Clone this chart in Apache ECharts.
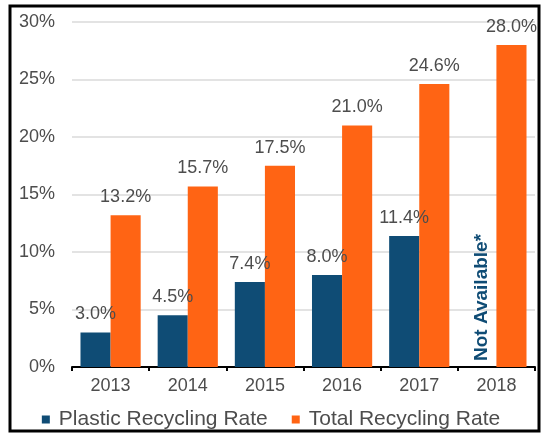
<!DOCTYPE html>
<html>
<head>
<meta charset="utf-8">
<script src="https://cdn.jsdelivr.net/npm/echarts@6/dist/echarts.min.js"></script>
<style>
html,body{margin:0;padding:0;background:#fff;}
#chart{width:542px;height:437px;}
</style>
</head>
<body>
<div id="chart"></div>
<script>
const categories = ['2013', '2014', '2015', '2016', '2017', '2018'];
const plasticRate = [3.0, 4.5, 7.4, 8.0, 11.4, null];
const totalRate = [13.2, 15.7, 17.5, 21.0, 24.6, 28.0];
const yTicks = [0, 5, 10, 15, 20, 25, 30];
const notAvailableText = 'Not Available*';

const FONT = '"Liberation Sans", Arial, sans-serif';
const BLUE = '#0f4c75';
const ORANGE = '#ff6414';
const TEXT = '#4d4d4d';

const plasticData = plasticRate.map(v => v === null ? {
  value: 0,
  label: {
    show: true,
    formatter: notAvailableText,
    position: 'top',
    rotate: 90,
    align: 'left',
    verticalAlign: 'middle',
    distance: 6,
    color: BLUE,
    fontWeight: 'bold',
    fontSize: 19
  }
} : v);

const chart = echarts.init(document.getElementById('chart'), null, {renderer: 'canvas'});
chart.setOption({
  animation: false,
  backgroundColor: '#fff',
  textStyle: {fontFamily: FONT},
  graphic: [{
    type: 'rect',
    shape: {x: 10, y: 6, width: 529, height: 425},
    style: {fill: 'none', stroke: '#000', lineWidth: 3},
    silent: true
  }],
  grid: {left: 72, right: 7, top: 22, bottom: 70, containLabel: false},
  legend: {
    top: 404,
    left: 'center',
    itemWidth: 8,
    itemHeight: 8,
    itemGap: 24,
    icon: 'rect',
    textStyle: {fontSize: 21, color: TEXT, fontFamily: FONT, padding: [0, 0, 0, 4]},
    data: ['Plastic Recycling Rate', 'Total Recycling Rate']
  },
  xAxis: {
    type: 'category',
    data: categories,
    axisLine: {lineStyle: {color: '#000', width: 2}},
    axisTick: {show: true, length: 4, lineStyle: {color: '#000', width: 2}},
    axisLabel: {fontSize: 18, color: TEXT, margin: 10, fontFamily: FONT}
  },
  yAxis: {
    type: 'value',
    min: yTicks[0],
    max: yTicks[yTicks.length - 1],
    interval: 5,
    axisLine: {show: false},
    axisTick: {show: false},
    axisLabel: {fontSize: 18, color: TEXT, margin: 17, formatter: '{value}%', fontFamily: FONT},
    splitLine: {lineStyle: {color: '#dadada', width: 1.5}}
  },
  series: [{
    name: 'Plastic Recycling Rate',
    type: 'bar',
    data: plasticData,
    itemStyle: {color: BLUE},
    barGap: '0%',
    barCategoryGap: '22%',
    label: {
      show: true,
      position: 'top',
      distance: 9,
      fontSize: 18,
      color: TEXT,
      fontFamily: FONT,
      formatter: p => p.value.toFixed(1) + '%'
    }
  }, {
    name: 'Total Recycling Rate',
    type: 'bar',
    data: totalRate,
    itemStyle: {color: ORANGE},
    barGap: '0%',
    barCategoryGap: '22%',
    label: {
      show: true,
      position: 'top',
      distance: 9,
      fontSize: 18,
      color: TEXT,
      fontFamily: FONT,
      formatter: p => p.value.toFixed(1) + '%'
    }
  }]
});
</script>
</body>
</html>
